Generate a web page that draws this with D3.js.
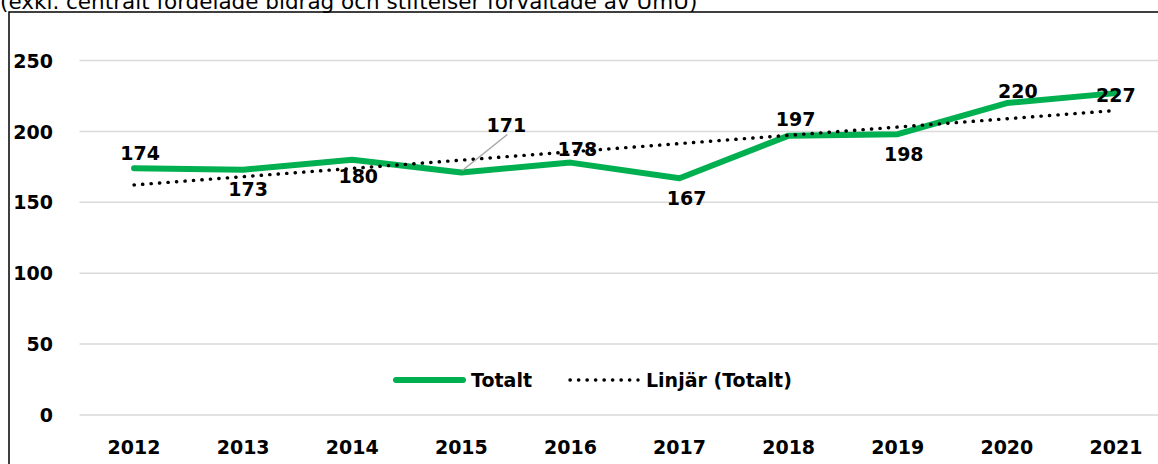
<!DOCTYPE html>
<html>
<head>
<meta charset="utf-8">
<script src="https://cdn.jsdelivr.net/npm/d3@7/dist/d3.min.js"></script>
<style>
  html, body { margin: 0; padding: 0; background: #fff; }
  svg { display: block; }
  text { font-family: "DejaVu Sans", Verdana, sans-serif; }
</style>
</head>
<body>
<svg id="chart" width="1158" height="464"></svg>
<script>
// ---- data ----
const years = ["2012","2013","2014","2015","2016","2017","2018","2019","2020","2021"];
const totalt = [174, 173, 180, 171, 178, 167, 197, 198, 220, 227];
const yTicks = [0, 50, 100, 150, 200, 250];
const subtitle = "(exkl. centralt fördelade bidrag och stiftelser förvaltade av UmU)";
const seriesName = "Totalt";
const trendName = "Linjär (Totalt)";
// label offsets relative to point (Excel placement)
const labelOffsets = [[6,-8],[5,26],[6,23],[45,-41],[7,-7],[7,27],[7,-10],[6,27],[11,-5],[0,9]];

const svg = d3.select("#chart");
const W = 1158, H = 464;
const FS = 19;

const plotLeft = 79.5, band = 109.1;
const x = d3.scaleBand().domain(years).range([plotLeft, plotLeft + band * years.length]).paddingInner(0).paddingOuter(0);
const y = d3.scaleLinear().domain([0, 250]).range([415, 60.5]);
const cx = d => x(d) + x.bandwidth() / 2;

// subtitle (cut at top, as in the reference)
svg.append("text").attr("x", 0).attr("y", 9).attr("font-size", 21.5).attr("fill", "#000").text(subtitle);

// chart border
svg.append("rect").attr("x", 9).attr("y", 12).attr("width", 1200).attr("height", 500)
  .attr("fill", "none").attr("stroke", "#000").attr("stroke-width", 1.5);

// gridlines
svg.append("g").selectAll("line").data(yTicks).join("line")
  .attr("x1", plotLeft).attr("x2", W)
  .attr("y1", d => y(d)).attr("y2", d => y(d))
  .attr("stroke", "#d9d9d9").attr("stroke-width", 1.5);

// y axis
const yAxis = d3.axisLeft(y).tickValues(yTicks).tickSize(0).tickPadding(0);
const gy = svg.append("g").attr("transform", "translate(53,0)").call(yAxis);
gy.select(".domain").remove();
gy.selectAll("text").attr("font-size", FS).attr("font-weight", "bold").attr("fill", "#000")
  .attr("font-family", "'DejaVu Sans', Verdana, sans-serif").attr("dy", "0.35em");

// x axis
const xAxis = d3.axisBottom(x).tickSize(0).tickPadding(0);
const gx = svg.append("g").attr("transform", "translate(0,441)").call(xAxis);
gx.select(".domain").remove();
gx.selectAll("text").attr("font-size", FS).attr("font-weight", "bold").attr("fill", "#000")
  .attr("font-family", "'DejaVu Sans', Verdana, sans-serif").attr("dy", "0.7em");

// trend line (linear regression)
const n = totalt.length;
const xs = d3.range(n);
const mx = d3.mean(xs), my = d3.mean(totalt);
const slope = d3.sum(xs, i => (i - mx) * (totalt[i] - my)) / d3.sum(xs, i => (i - mx) * (i - mx));
const icpt = my - slope * mx;
const trend = [[years[0], icpt], [years[n - 1], icpt + slope * (n - 1)]];
const line = d3.line().x(d => cx(d[0])).y(d => y(d[1]));

// main series
svg.append("path").datum(years.map((yr, i) => [yr, totalt[i]]))
  .attr("d", line).attr("fill", "none").attr("stroke", "#00B050")
  .attr("stroke-width", 6).attr("stroke-linejoin", "round").attr("stroke-linecap", "round");

svg.append("path").datum(trend)
  .attr("d", line).attr("fill", "none").attr("stroke", "#000")
  .attr("stroke-width", 3.4).attr("stroke-dasharray", "0.3 8.2").attr("stroke-linecap", "round");

// leader line for 2015 label
const li = 3;
svg.append("line")
  .attr("x1", cx(years[li]) + 1).attr("y1", y(totalt[li]) - 2)
  .attr("x2", cx(years[li]) + 46).attr("y2", y(totalt[li]) - 38)
  .attr("stroke", "#A6A6A6").attr("stroke-width", 1.5);

// data labels
svg.append("g").selectAll("text").data(years).join("text")
  .attr("x", (d, i) => cx(d) + labelOffsets[i][0])
  .attr("y", (d, i) => y(totalt[i]) + labelOffsets[i][1])
  .attr("text-anchor", "middle").attr("font-size", FS).attr("font-weight", "bold").attr("fill", "#000")
  .text((d, i) => totalt[i]);

// legend
const lg = svg.append("g");
lg.append("line").attr("x1", 396).attr("x2", 463).attr("y1", 380).attr("y2", 380)
  .attr("stroke", "#00B050").attr("stroke-width", 6).attr("stroke-linecap", "round");
lg.append("text").attr("x", 471).attr("y", 387).attr("font-size", FS).attr("font-weight", "bold").text(seriesName);
lg.append("line").attr("x1", 570).attr("x2", 638).attr("y1", 380).attr("y2", 380)
  .attr("stroke", "#000").attr("stroke-width", 3.4).attr("stroke-dasharray", "0.3 8.2").attr("stroke-linecap", "round");
lg.append("text").attr("x", 646).attr("y", 387).attr("font-size", FS).attr("font-weight", "bold").text(trendName);
</script>
</body>
</html>
